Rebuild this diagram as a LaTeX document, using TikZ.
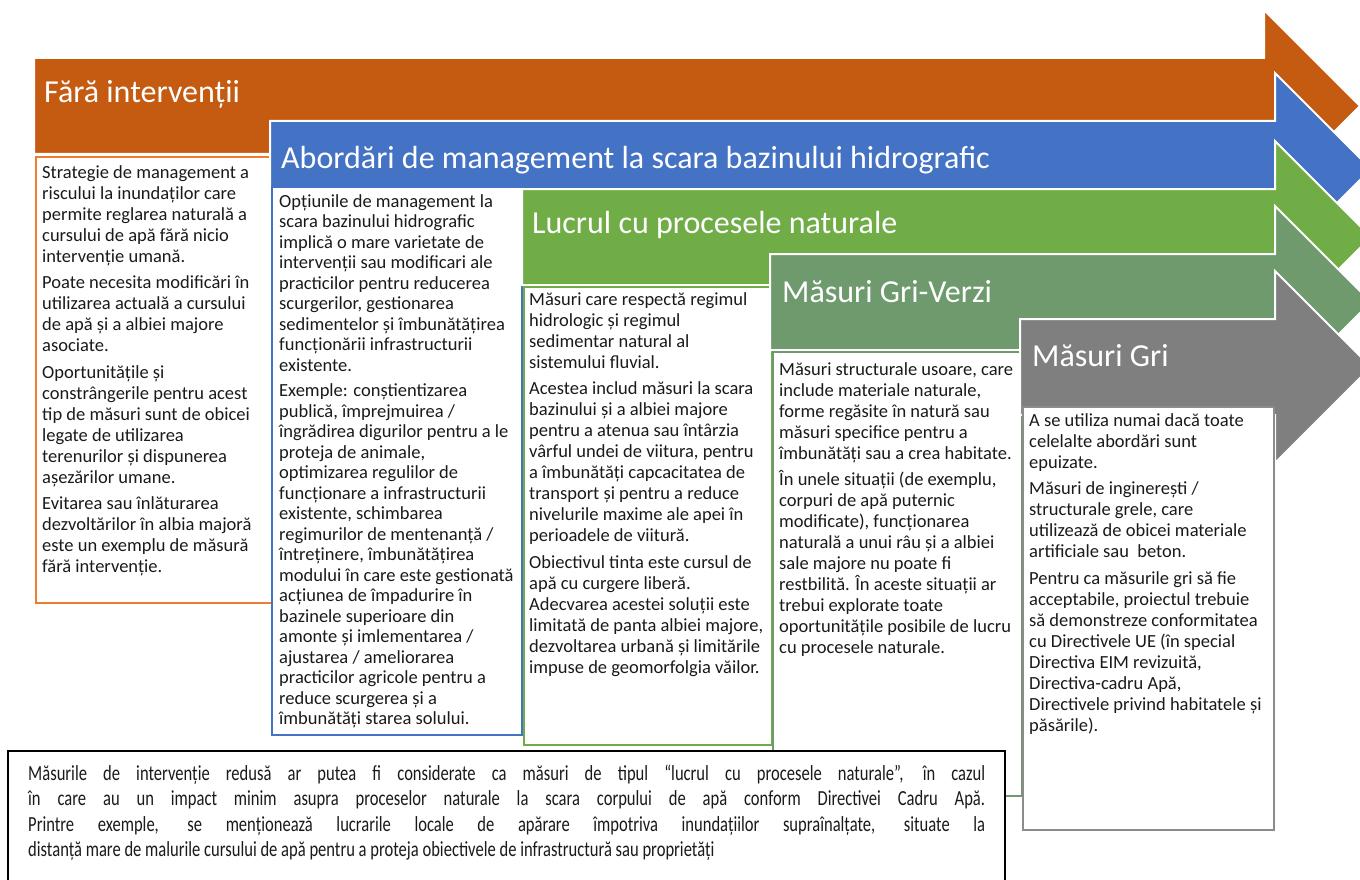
\documentclass[tikz,border=0pt]{standalone}
\usepackage{fontspec}
\setmainfont{Carlito}
\newfontfamily\narrowfont[FakeStretch=0.77]{Carlito}
\definecolor{cOr}{HTML}{C55A11}
\definecolor{cOrL}{HTML}{ED7D31}
\definecolor{cBl}{HTML}{4472C4}
\definecolor{cGr}{HTML}{70AD47}
\definecolor{cGG}{HTML}{6E9A6E}
\definecolor{cGy}{HTML}{7F7F7F}
\definecolor{cGyB}{HTML}{8C8C8C}
\definecolor{txtc}{HTML}{1A1A1A}
\newcommand{\fst}{\rule{0pt}{18pt}}
\begin{document}
\begin{tikzpicture}[x=1pt,y=-1pt,
  arr/.style={draw=white, line width=2pt, line join=miter},
  bx/.style={fill=white, line width=2pt},
  hdr/.style={anchor=base west, inner sep=0pt, text=white, font=\fontsize{32}{36}\selectfont},
  txt/.style={anchor=north west, inner sep=0pt, align=left, text=txtc},
  f21/.style={font=\fontsize{18.5}{21}\selectfont},
  f20/.style={font=\fontsize{18.5}{20.5}\selectfont}]
\useasboundingbox (0,0) rectangle (1360,880);
\clip (0,0) rectangle (1360,880);
\fill[white] (0,0) rectangle (1360,880);
% orange
\filldraw[arr, fill=cOr] (34,58) -- (1264,58) -- (1264,10) -- (1360,106) -- (1264,202) -- (1264,154) -- (34,154) -- cycle;
\node[hdr] (hOr) at (44,103) {Fără intervenții};
\filldraw[bx, draw=cOrL] (36,157) rectangle (272,603);
\node[txt, f21] (tOr) at (42,160) {\fst Strategie de management a\\
riscului la inundaților care\\
permite reglarea naturală a\\
cursului de apă fără nicio\\
intervenție umană.\\[5.5pt]
Poate necesita modificări în\\
utilizarea actuală a cursului\\
de apă și a albiei majore\\
asociate.\\[5.5pt]
Oportunitățile și\\
constrângerile pentru acest\\
tip de măsuri sunt de obicei\\
legate de utilizarea\\
terenurilor și dispunerea\\
așezărilor umane.\\[5.5pt]
Evitarea sau înlăturarea\\
dezvoltărilor în albia majoră\\
este un exemplu de măsură\\
fără intervenție.};
% blue
\filldraw[arr, fill=cBl] (270,121) -- (1275,121) -- (1275,73) -- (1371,169) -- (1275,265) -- (1275,217) -- (270,217) -- cycle;
\node[hdr] (hBl) at (281,168) {Abordări de management la scara bazinului hidrografic};
\filldraw[bx, draw=cBl] (272,187) rectangle (522,735);
\node[txt, f20] (tBl) at (279,189) {\fst Opțiunile de management la\\
scara bazinului hidrografic\\
implică o mare varietate de\\
intervenții sau modificari ale\\
practicilor pentru reducerea\\
scurgerilor, gestionarea\\
sedimentelor și îmbunătățirea\\
funcționării infrastructurii\\
existente.\\[5pt]
Exemple: conștientizarea\\
publică, împrejmuirea /\\
îngrădirea digurilor pentru a le\\
proteja de animale,\\
optimizarea regulilor de\\
funcționare a infrastructurii\\
existente, schimbarea\\
regimurilor de mentenanță /\\
întreținere, îmbunătățirea\\
modului în care este gestionată\\
acțiunea de împadurire în\\
bazinele superioare din\\
amonte și imlementarea /\\
ajustarea / ameliorarea\\
practicilor agricole pentru a\\
reduce scurgerea și a\\
îmbunătăți starea solului.};
% green
\filldraw[arr, fill=cGr] (522,189) -- (1275,189) -- (1275,141) -- (1371,237) -- (1275,333) -- (1275,285) -- (522,285) -- cycle;
\node[hdr] (hGr) at (532,233) {Lucrul cu procesele naturale};
\filldraw[bx, draw=cGr] (524,287) rectangle (772,745);
\node[txt, f21] (tGr) at (529,287) {\fst Măsuri care respectă regimul\\
hidrologic și regimul\\
sedimentar natural al\\
sistemului fluvial.\\[5.5pt]
Acestea includ măsuri la scara\\
bazinului și a albiei majore\\
pentru a atenua sau întârzia\\
vârful undei de viitura, pentru\\
a îmbunătăți capcacitatea de\\
transport și pentru a reduce\\
nivelurile maxime ale apei în\\
perioadele de viitură.\\[5.5pt]
Obiectivul tinta este cursul de\\
apă cu curgere liberă.\\
Adecvarea acestei soluții este\\
limitată de panta albiei majore,\\
dezvoltarea urbană și limitările\\
impuse de geomorfolgia văilor.};
% grey-green
\filldraw[arr, fill=cGG] (770,254) -- (1275,254) -- (1275,206) -- (1371,302) -- (1275,398) -- (1275,350) -- (770,350) -- cycle;
\node[hdr] (hGG) at (782,302) {Măsuri Gri-Verzi};
\filldraw[bx, draw=cGG] (773,352) rectangle (1022,796);
\node[txt, f21] (tGG) at (779,357) {\fst Măsuri structurale usoare, care\\
include materiale naturale,\\
forme regăsite în natură sau\\
măsuri specifice pentru a\\
îmbunătăți sau a crea habitate.\\[5.5pt]
În unele situații (de exemplu,\\
corpuri de apă puternic\\
modificate), funcționarea\\
naturală a unui râu și a albiei\\
sale majore nu poate fi\\
restbilită. În aceste situații ar\\
trebui explorate toate\\
oportunitățile posibile de lucru\\
cu procesele naturale.};
% grey
\filldraw[arr, fill=cGy] (1020,319) -- (1275,319) -- (1275,271) -- (1371,367) -- (1275,463) -- (1275,415) -- (1020,415) -- cycle;
\node[hdr] (hGy) at (1032,366) {Măsuri Gri};
\filldraw[bx, draw=cGyB] (1023,407) rectangle (1274,830);
\node[txt, f21] (tGy) at (1029,408) {\fst A se utiliza numai dacă toate\\
celelalte abordări sunt\\
epuizate.\\[5.5pt]
Măsuri de inginerești /\\
structurale grele, care\\
utilizează de obicei materiale\\
artificiale sau \ beton.\\[5.5pt]
Pentru ca măsurile gri să fie\\
acceptabile, proiectul trebuie\\
să demonstreze conformitatea\\
cu Directivele UE (în special\\
Directiva EIM revizuită,\\
Directiva-cadru Apă,\\
Directivele privind habitatele și\\
păsările).};
% bottom note
\filldraw[fill=white, draw=black, line width=1.5pt] (8,751) rectangle (1005,900);
\node[txt, font=\narrowfont\fontsize{21.5}{25.5}\selectfont] (tNote) at (28,762) {\fst\makebox[957pt][s]{Măsurile de intervenție redusă ar putea fi considerate ca măsuri de tipul “lucrul cu procesele naturale”, în cazul}\\
\makebox[957pt][s]{în care au un impact minim asupra proceselor naturale la scara corpului de apă conform Directivei Cadru Apă.}\\
\makebox[957pt][s]{Printre exemple, se menționează lucrarile locale de apărare împotriva inundațiilor supraînalțate, situate la}\\
distanță mare de malurile cursului de apă pentru a proteja obiectivele de infrastructură sau proprietăți};
\end{tikzpicture}
\end{document}
